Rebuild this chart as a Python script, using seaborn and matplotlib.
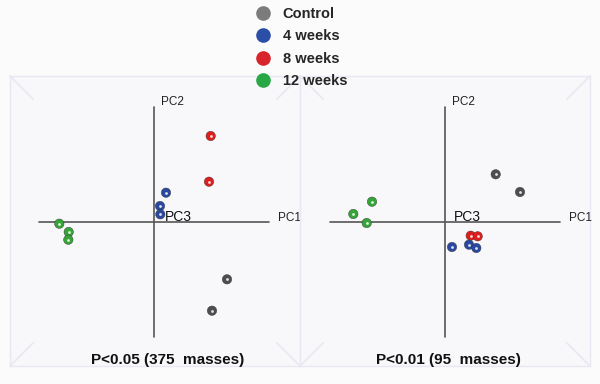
import matplotlib
matplotlib.use("Agg")
import matplotlib.pyplot as plt
import numpy as np
import pandas as pd
import seaborn as sns
from matplotlib.lines import Line2D

GROUPS = ["Control", "4 weeks", "8 weeks", "12 weeks"]
LEGEND_COLORS = ["#7b7b7b", "#2b4fa6", "#d8252b", "#27a844"]
POINT_COLORS = ["#4e4e4e", "#2a48a0", "#e01d1d", "#34a536"]

# P<0.05 panel scores (arbitrary PC units)
p05_group = ["8 weeks", "8 weeks", "4 weeks", "4 weeks", "4 weeks",
             "12 weeks", "12 weeks", "12 weeks", "Control", "Control"]
p05_pc1 = [56.7, 55.0, 12.0, 6.0, 6.3, -94.7, -85.3, -85.7, 73.0, 58.0]
p05_pc2 = [85.7, 40.0, 29.0, 15.7, 7.4, -2.0, -10.3, -18.0, -57.6, -89.0]

# P<0.01 panel scores
p01_group = ["Control", "Control", "12 weeks", "12 weeks", "12 weeks",
             "8 weeks", "8 weeks", "4 weeks", "4 weeks", "4 weeks"]
p01_pc1 = [50.7, 75.0, -73.0, -91.7, -78.3, 25.7, 32.7, 7.0, 24.0, 31.3]
p01_pc2 = [47.4, 29.7, 20.0, 7.7, -1.3, -14.0, -14.6, -25.3, -23.0, -26.3]

AXIS_HALF = 115
PANEL_TITLES = ["P<0.05 (375  masses)", "P<0.01 (95  masses)"]

BG = "#f8f8fa"
BOX = "#e8e8f2"
AXIS_COLOR = "#555555"
FONT = ["Liberation Sans", "DejaVu Sans"]


def draw_box(ax):
    for sp in ax.spines.values():
        sp.set_color(BOX)
        sp.set_linewidth(1.0)
    d = 0.08
    kw = dict(transform=ax.transAxes, color=BOX, lw=1.2, clip_on=False)
    ax.plot([0, d], [1, 1 - d], **kw)
    ax.plot([1, 1 - d], [1, 1 - d], **kw)
    ax.plot([0, d], [0, d], **kw)
    ax.plot([1, 1 - d], [0, d], **kw)


def draw_panel(ax, df, xlim, ylim, title, title_x, pc3_x):
    ax.set_facecolor(BG)
    ax.axhline(0, xmin=(-AXIS_HALF - xlim[0]) / (xlim[1] - xlim[0]),
               xmax=(AXIS_HALF - xlim[0]) / (xlim[1] - xlim[0]),
               color=AXIS_COLOR, lw=1.2, zorder=1)
    ax.axvline(0, ymin=(-AXIS_HALF - ylim[0]) / (ylim[1] - ylim[0]),
               ymax=(AXIS_HALF - ylim[0]) / (ylim[1] - ylim[0]),
               color=AXIS_COLOR, lw=1.2, zorder=1)

    sns.scatterplot(data=df, x="PC1", y="PC2", hue="group", hue_order=GROUPS,
                    palette=POINT_COLORS, s=46, edgecolor="#333333",
                    linewidth=0.3, legend=False, ax=ax, zorder=3)
    # specular highlight on each sphere
    ax.scatter(df["PC1"], df["PC2"], s=4, color="white", alpha=0.85,
               linewidths=0, zorder=4)

    ax.text(7, 120, "PC2", fontsize=8.5, family=FONT, color="#222222", va="center")
    ax.text(124, 4, "PC1", fontsize=8.5, family=FONT, color="#222222", va="center")
    ax.text(pc3_x, 5, "PC3", fontsize=10, family=FONT, color="#111111", va="center")
    ax.text(title_x, -138, title, fontsize=11, family=FONT, fontweight="bold",
            ha="center", va="center", color="#111111")

    ax.set_xlim(*xlim)
    ax.set_ylim(*ylim)
    ax.set_xticks([])
    ax.set_yticks([])
    ax.set_xlabel("")
    ax.set_ylabel("")
    draw_box(ax)


def main():
    sns.set_theme(style="white")
    plt.rcParams["font.family"] = FONT

    df05 = pd.DataFrame({"group": p05_group, "PC1": p05_pc1, "PC2": p05_pc2})
    df01 = pd.DataFrame({"group": p01_group, "PC1": p01_pc1, "PC2": p01_pc2})

    fig = plt.figure(figsize=(6.0, 3.84), dpi=100, facecolor="#fbfbfc")
    W, H = 600, 384
    top, bottom = 76, 366
    ax1 = fig.add_axes([10 / W, 1 - bottom / H, 290 / W, (bottom - top) / H])
    ax2 = fig.add_axes([300 / W, 1 - bottom / H, 290 / W, (bottom - top) / H])

    ylim = (-144.3, 145.7)
    draw_panel(ax1, df05, (-144, 146), ylim, PANEL_TITLES[0], 14, 11)
    draw_panel(ax2, df01, (-145, 145), ylim, PANEL_TITLES[1], 3, 9)

    handles = [Line2D([0], [0], marker="o", linestyle="", markersize=9.5,
                      markerfacecolor=c, markeredgecolor=c)
               for c in LEGEND_COLORS]
    fig.legend(handles, GROUPS, loc="upper left",
               bbox_to_anchor=(255.7 / W, 1 - 7 / H), frameon=False,
               prop={"family": FONT, "weight": "bold", "size": 10.5},
               handlelength=1.0, handletextpad=0.85, labelspacing=0.58,
               borderpad=0, borderaxespad=0)

    fig.savefig("out.png", dpi=100, facecolor=fig.get_facecolor())
    plt.close(fig)


if __name__ == "__main__":
    main()
